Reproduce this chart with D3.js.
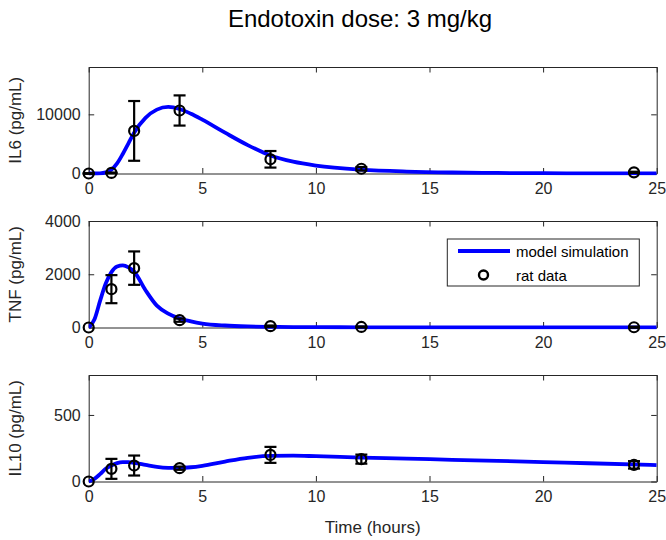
<!DOCTYPE html>
<html><head><meta charset="utf-8">
<script src="https://cdn.jsdelivr.net/npm/d3@7"></script>
<style>
body{margin:0;background:#fff}
text{font-family:"Liberation Sans",Arial,Helvetica,sans-serif}
</style>
</head><body>
<svg id="chart" width="666" height="540"></svg>
<script>
// ---- data ----
const titleText = "Endotoxin dose: 3 mg/kg";
const xLabelText = "Time (hours)";
const legendLabels = ["model simulation", "rat data"];
const panelLabels = ["IL6 (pg/mL)", "TNF (pg/mL)", "IL10 (pg/mL)"];

const dataTimes = [0, 1, 2, 4, 8, 12, 24];
const il6Mean  = [0, 100, 7200, 10650, 2400, 800, 200];
const il6Err   = [60, 60, 5050, 2550, 1400, 300, 100];
const tnfMean  = [0, 1440, 2230, 275, 50, 20, 10];
const tnfErr   = [0, 527, 627, 60, 25, 20, 20];
const il10Mean = [0, 95, 120, 100, 200, 168, 125];
const il10Err  = [0, 75, 75, 12, 60, 34, 28];

const modelTimes = [0, 0.25, 0.5, 0.75, 1, 1.25, 1.5, 1.75, 2, 2.5, 3, 3.5, 4, 4.5, 5, 6, 7, 8, 9, 10, 12, 14, 16, 18, 20, 22, 25];
const il6Model  = [0, 0, 30, 200, 650, 1700, 3300, 5100, 6900, 9400, 10800, 11250, 10900, 10100, 9100, 6900, 4800, 3050, 2000, 1350, 650, 330, 170, 90, 50, 30, 15];
const tnfModel  = [0, 300, 1000, 1650, 2080, 2290, 2330, 2260, 2100, 1400, 820, 520, 340, 230, 150, 75, 40, 25, 17, 12, 8, 6, 5, 4, 3, 3, 2];
const il10Model = [0, 20, 55, 95, 120, 138, 145, 145, 140, 125, 110, 103, 102, 107, 118, 150, 178, 192, 194, 190, 180, 172, 163, 155, 146, 137, 123];

const xDomain = [0, 25];
const xTicks = [0, 5, 10, 15, 20, 25];
const yMaxes = [18000, 4000, 800];
const yTicks = [[0, 10000], [0, 2000, 4000], [0, 500]];

// ---- layout ----
const svg = d3.select("#chart");
const left = 88.7, right = 656.7, W = right - left, H = 106.5;
const tops = [67, 221, 375];
const axisColor = "#262626";

const x = d3.scaleLinear().domain(xDomain).range([0, W]);

svg.append("text").attr("x", 360).attr("y", 27)
  .attr("text-anchor", "middle").attr("font-size", 24).attr("fill", "#000").text(titleText);

const panels = [
  {model: il6Model, mean: il6Mean, err: il6Err},
  {model: tnfModel, mean: tnfMean, err: tnfErr},
  {model: il10Model, mean: il10Mean, err: il10Err}
];

svg.append("defs").append("clipPath").attr("id", "clip")
  .append("rect").attr("x", 0).attr("y", -2).attr("width", W).attr("height", H + 4);

panels.forEach((p, i) => {
  const g = svg.append("g").attr("transform", `translate(${left},${tops[i]})`);
  const y = d3.scaleLinear().domain([0, yMaxes[i]]).range([H, 0]);

  const styleAxis = sel => {
    sel.select(".domain").attr("stroke", axisColor);
    sel.selectAll(".tick line").attr("stroke", axisColor);
    sel.selectAll("text").attr("fill", axisColor).attr("font-size", 16)
      .attr("font-family", '"Liberation Sans",Arial,Helvetica,sans-serif');
  };
  g.append("g").attr("transform", `translate(0,${H})`)
    .call(d3.axisBottom(x).tickValues(xTicks).tickSize(-5.5).tickSizeOuter(0).tickPadding(9).tickFormat(d3.format("d")))
    .call(styleAxis);
  g.append("g")
    .call(d3.axisTop(x).tickValues(xTicks).tickSize(-5.5).tickSizeOuter(0).tickFormat(""))
    .call(styleAxis);
  g.append("g")
    .call(d3.axisLeft(y).tickValues(yTicks[i]).tickSize(-5.5).tickSizeOuter(0).tickPadding(8).tickFormat(d3.format("d")))
    .call(styleAxis);
  g.append("g").attr("transform", `translate(${W},0)`)
    .call(d3.axisRight(y).tickValues(yTicks[i]).tickSize(-5.5).tickSizeOuter(0).tickFormat(""))
    .call(styleAxis);
  g.selectAll(".domain").attr("stroke-width", 1);

  svg.append("text")
    .attr("transform", `translate(21,${tops[i] + H / 2}) rotate(-90)`)
    .attr("text-anchor", "middle").attr("font-size", 17).attr("fill", axisColor)
    .text(panelLabels[i]);

  const line = d3.line().x((d, j) => x(modelTimes[j])).y(d => y(d)).curve(d3.curveMonotoneX);
  g.append("path").datum(p.model).attr("clip-path", "url(#clip)")
    .attr("d", line).attr("fill", "none").attr("stroke", "#0000ff")
    .attr("stroke-width", 3.8).attr("stroke-linejoin", "round");

  const eb = g.append("g").attr("stroke", "#000").attr("stroke-width", 2.2).attr("fill", "none");
  dataTimes.forEach((t, j) => {
    const cx = x(t), y1 = y(p.mean[j] + p.err[j]), y0 = y(p.mean[j] - p.err[j]);
    if (p.err[j] > 0) {
      eb.append("line").attr("x1", cx).attr("x2", cx).attr("y1", y1).attr("y2", y0);
      eb.append("line").attr("x1", cx - 6).attr("x2", cx + 6).attr("y1", y1).attr("y2", y1);
      eb.append("line").attr("x1", cx - 6).attr("x2", cx + 6).attr("y1", y0).attr("y2", y0);
    }
    eb.append("circle").attr("cx", cx).attr("cy", y(p.mean[j])).attr("r", 5);
  });

  if (i === 1) {
    const lg = svg.append("g");
    lg.append("rect").attr("x", 447.3).attr("y", 239).attr("width", 192).attr("height", 47)
      .attr("fill", "#fff").attr("stroke", axisColor).attr("stroke-width", 1);
    lg.append("line").attr("x1", 458).attr("x2", 510).attr("y1", 251).attr("y2", 251)
      .attr("stroke", "#0000ff").attr("stroke-width", 3.8);
    lg.append("circle").attr("cx", 483.5).attr("cy", 275).attr("r", 4.5)
      .attr("fill", "none").attr("stroke", "#000").attr("stroke-width", 2.4);
    lg.selectAll("text.lt").data(legendLabels).enter().append("text")
      .attr("x", 516).attr("y", (d, k) => 257 + k * 23.5)
      .attr("font-size", 15).attr("fill", "#000").text(d => d);
  }
});

svg.append("text").attr("x", left + W / 2).attr("y", 533)
  .attr("text-anchor", "middle").attr("font-size", 17).attr("fill", axisColor).text(xLabelText);
</script>
</body></html>
